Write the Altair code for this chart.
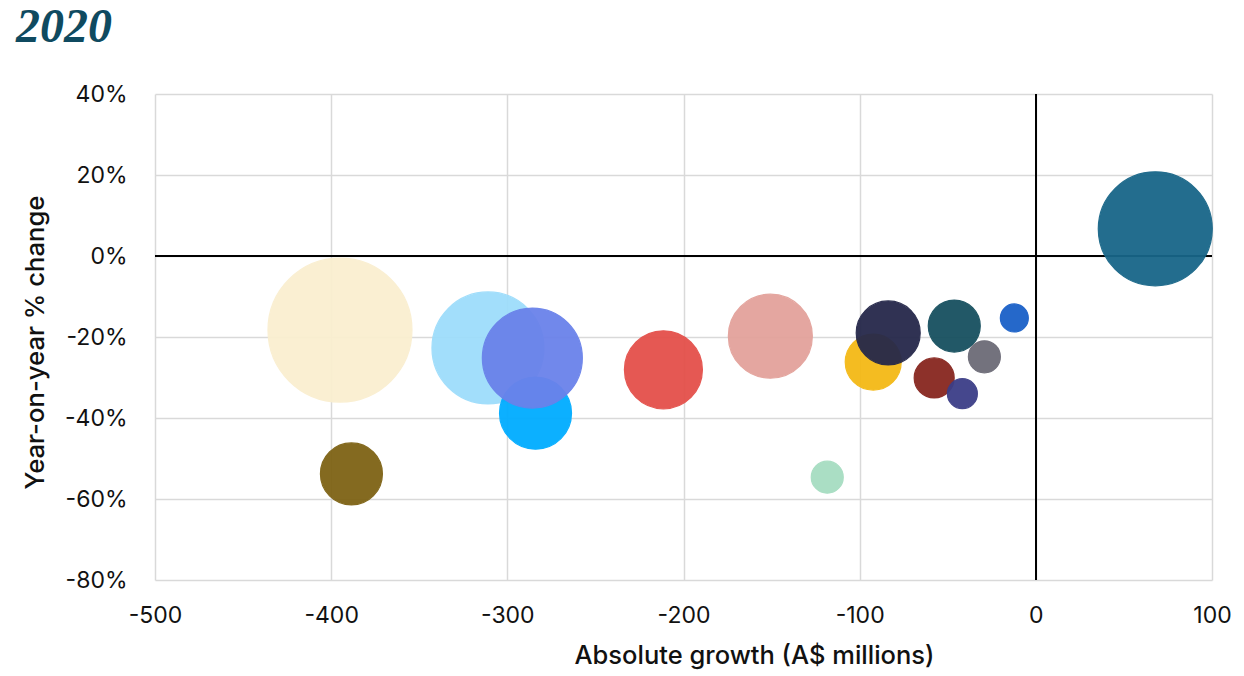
import altair as alt
import pandas as pd

# Data
segments = ["S1", "S2", "S3", "S4", "S5", "S6", "S7", "S8",
            "S9", "S10", "S11", "S12", "S13", "S14", "S15", "S16"]
growth = [-395, -388.5, -311, -284, -285.8, -211.4, -150.7, -118.4,
          -92.3, -83.8, -46.3, -12.2, -29.2, -57.7, -41.7, 67.8]
pct_change = [-0.183, -0.538, -0.227, -0.388, -0.252, -0.281, -0.198, -0.546,
              -0.262, -0.190, -0.173, -0.153, -0.249, -0.301, -0.340, 0.067]
bubble_size = [5184, 961, 3136, 1296, 2500, 1521, 1764, 256,
               784, 1024, 676, 196, 256, 400, 225, 3249]
colors = ["#FAEFD0", "#7E6315", "#9EDDFB", "#00ACFF", "#6A82EA", "#E4504A",
          "#E3A29B", "#A6DDC1", "#F4B916", "#25284A", "#17505F", "#1A60C8",
          "#6C6B77", "#87261F", "#3C3E87", "#186688"]
title_text = ["2020"]

df = pd.DataFrame({
    "segment": segments,
    "growth": growth,
    "pct": pct_change,
    "size": bubble_size,
    "order": list(range(len(segments))),
})

FONT = "Inter"
FIX_MINUS = "replace(datum.label, '\u2212', '-')"

x_scale = alt.Scale(domain=[-500, 100], nice=False, zero=False)
y_scale = alt.Scale(domain=[-0.8, 0.4], nice=False, zero=False)

bubbles = alt.Chart(df).mark_circle(opacity=0.95, strokeWidth=1.2, strokeOpacity=1).encode(
    x=alt.X("growth:Q", scale=x_scale,
            axis=alt.Axis(title="Absolute growth (A$ millions)",
                          values=[-500, -400, -300, -200, -100, 0, 100],
                          format="d", labelExpr=FIX_MINUS, labelFlush=False,
                          labelPadding=24, titlePadding=16, titleFontSize=25.5,
                          titleX=599, titleAlign="center")),
    y=alt.Y("pct:Q", scale=y_scale,
            axis=alt.Axis(title="Year-on-year % change",
                          values=[-0.8, -0.6, -0.4, -0.2, 0, 0.2, 0.4],
                          format=".0%", labelExpr=FIX_MINUS, labelFlush=False,
                          labelPadding=28, titlePadding=16, titleFontSize=25.7,
                          titleY=248, titleAlign="center")),
    size=alt.Size("size:Q", scale=alt.Scale(domain=[0, 5184], range=[0, 144 * 144]), legend=None),
    color=alt.Color("segment:N", scale=alt.Scale(domain=segments, range=colors), legend=None),
    stroke=alt.Stroke("segment:N", scale=alt.Scale(domain=segments, range=colors), legend=None),
    order=alt.Order("order:Q"),
)

vline = alt.Chart(df).mark_rule(color="black", strokeWidth=1.5).encode(x=alt.datum(0))
hline = alt.Chart(df).mark_rule(color="black", strokeWidth=1.5).encode(y=alt.datum(0))

title = alt.Chart(pd.DataFrame({"t": title_text})).mark_text(
    font="Liberation Serif", fontStyle="italic", fontWeight="bold", fontSize=48,
    color="#0F4A60", align="left", baseline="alphabetic",
).encode(text="t:N", x=alt.value(-139), y=alt.value(-52))

chart = alt.layer(vline, hline, bubbles, title).properties(
    width=1057,
    height=486,
    autosize=alt.AutoSizeParams(type="none"),
    padding={"left": 155, "top": 94, "right": 32, "bottom": 96},
).configure_view(stroke=None).configure_axis(
    domain=False, ticks=False, grid=True, gridColor="#D9D9D9", gridWidth=1.5,
    labelFont=FONT, labelFontSize=23, labelColor="#111111",
    titleFont=FONT, titleFontWeight=500, titleColor="#111111",
)

chart.save("out.html", embed_options={"renderer": "svg", "actions": False})
